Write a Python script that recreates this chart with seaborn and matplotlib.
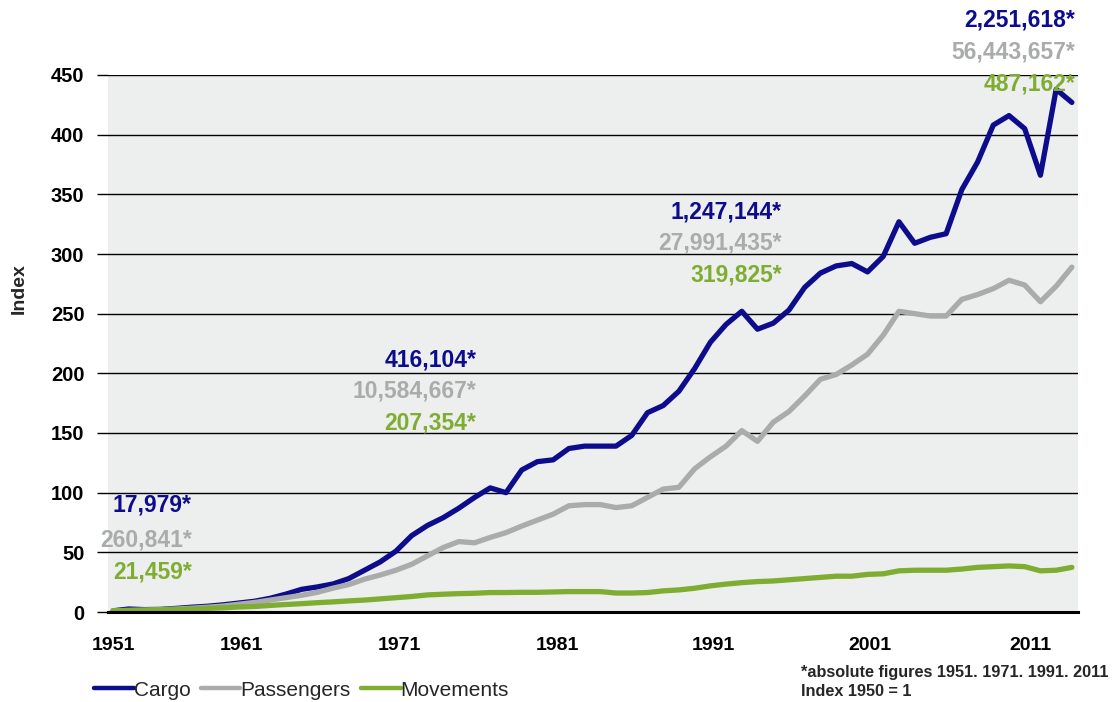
import numpy as np
import pandas as pd
import seaborn as sns
import matplotlib
matplotlib.use("Agg")
import matplotlib.pyplot as plt

# ---------------- data ----------------
years = list(range(1950, 2012))
cargo = [1, 2.5, 2, 2.2, 3, 4, 4.8, 6, 7.5, 9,
         11.5, 15, 19, 21, 23.5, 28, 35, 42, 51, 64,
         72.5, 79, 87, 96, 104, 100, 119, 126, 127.5, 137,
         139, 139, 139, 148, 167, 173, 185, 204, 226, 241,
         252, 237, 242, 253, 272, 284, 290, 292, 285, 298,
         327, 309, 314, 317, 354, 377, 408, 416, 405, 366,
         438, 427]
passengers = [1, 1.3, 1.6, 2, 2.5, 3.2, 4, 5, 6.5, 8,
              10, 12, 14, 16.5, 20, 23, 27.5, 31, 35, 40,
              47, 54, 59, 58, 62.5, 66.5, 72, 77, 82, 89,
              90, 90, 87.5, 89, 96, 103, 104.5, 120, 130, 139,
              152, 143, 159, 168, 181, 195, 199, 207, 216, 232,
              252, 250, 248, 248, 262, 266, 271, 278, 274, 260,
              273, 289]
movements = [1, 1.3, 1.5, 1.8, 2.1, 2.5, 3, 3.5, 4.2, 4.6,
             5.5, 6.3, 7, 7.8, 8.5, 9.3, 10, 11, 12, 13,
             14.3, 14.9, 15.4, 15.7, 16.3, 16.3, 16.5, 16.5, 16.8, 17.1,
             17.1, 17.1, 15.9, 15.9, 16.3, 17.7, 18.5, 19.9, 21.9, 23.4,
             24.6, 25.5, 26, 27, 28, 29, 30, 30, 31.5, 32,
             34.5, 35, 35, 35, 36, 37.4, 38, 38.6, 38, 34.5,
             35, 37.4]
series_names = ["Cargo", "Passengers", "Movements"]
x_tick_labels = ["1951", "1961", "1971", "1981", "1991", "2001", "2011"]
ann_cargo = ["17,979*", "416,104*", "1,247,144*", "2,251,618*"]
ann_pass = ["260,841*", "10,584,667*", "27,991,435*", "56,443,657*"]
ann_mov = ["21,459*", "207,354*", "319,825*", "487,162*"]

# ---------------- layout / style ----------------
x_tick_pos = [1950.0, 1958.2, 1968.25, 1978.25, 1988.2, 1998.15, 2008.35]
ann_x = [1955.0, 1973.1, 1992.55, 2011.2]
ann_y_cargo = [89.7, 211, 335, 496]
ann_y_pass = [60, 185, 309, 469]
ann_y_mov = [33.5, 158, 282, 442.5]

c_cargo = "#0C0C8C"
c_pass = "#A9ACAB"
c_mov = "#7EAD31"

sns.set_style("white")
plt.rcParams["font.family"] = ["Liberation Sans", "DejaVu Sans"]

W, H = 1119, 702
fig = plt.figure(figsize=(W / 100, H / 100), dpi=100)
ax = fig.add_axes([108 / W, 90 / H, 970 / W, 537 / H])
ax.set_facecolor("#EDEEEE")

df = pd.DataFrame({
    "Year": years * 3,
    "Index": cargo + passengers + movements,
    "Series": sum([[n] * len(years) for n in series_names], []),
})
sns.lineplot(data=df, x="Year", y="Index", hue="Series", hue_order=series_names,
             palette=[c_cargo, c_pass, c_mov], linewidth=3.8, ax=ax, zorder=3)

handles, labels = ax.get_legend_handles_labels()
if ax.get_legend() is not None:
    ax.get_legend().remove()

ax.set_xlim(1949.68, 2011.39)
ax.set_ylim(0, 450)
ax.set_yticks(range(0, 451, 50))
ax.yaxis.grid(True, color="black", linewidth=1.0)
ax.xaxis.grid(False)
ax.set_axisbelow(True)
for s in ["left", "top", "right"]:
    ax.spines[s].set_visible(False)
ax.spines["bottom"].set_color("black")
ax.spines["bottom"].set_linewidth(2.2)
ax.spines["bottom"].set_zorder(4)

ax.tick_params(axis="y", left=True, length=8, width=1, color="black", pad=9,
               labelsize=14.5)
ax.tick_params(axis="x", bottom=False, length=0, pad=18, labelsize=14)
ax.set_xticks(x_tick_pos)
ax.set_xticklabels(x_tick_labels)
for lab in ax.get_xticklabels() + ax.get_yticklabels():
    lab.set_fontweight("bold")
    lab.set_color("black")
ax.set_xlabel("")
ax.set_ylabel("")

fig.text(19 / W, 1 - 289 / H, "Index", rotation=90, ha="center", va="center",
         fontsize=14, fontweight="bold")

for i in range(len(ann_x)):
    ax.text(ann_x[i], ann_y_cargo[i], ann_cargo[i], ha="right", va="center",
            color=c_cargo, fontsize=16.5, fontweight="bold", clip_on=False, zorder=5)
    ax.text(ann_x[i], ann_y_pass[i], ann_pass[i], ha="right", va="center",
            color=c_pass, fontsize=16.5, fontweight="bold", clip_on=False, zorder=5)
    ax.text(ann_x[i], ann_y_mov[i], ann_mov[i], ha="right", va="center",
            color=c_mov, fontsize=16.5, fontweight="bold", clip_on=False, zorder=5)

leg = fig.legend(handles, labels, loc="center left", bbox_to_anchor=(94 / W, 1 - 690 / H),
                 ncol=3, frameon=False, handlelength=1.9, handletextpad=0.0,
                 columnspacing=0.5, fontsize=15, borderaxespad=0, borderpad=0)
for h in leg.get_lines():
    h.set_linewidth(3.2)

fig.text(801 / W, 1 - 672 / H, "*absolute figures 1951. 1971. 1991. 2011",
         ha="left", va="center", fontsize=11.7, fontweight="bold")
fig.text(801 / W, 1 - 691 / H, "Index 1950 = 1",
         ha="left", va="center", fontsize=11.7, fontweight="bold")

fig.savefig("out.png", dpi=100)
